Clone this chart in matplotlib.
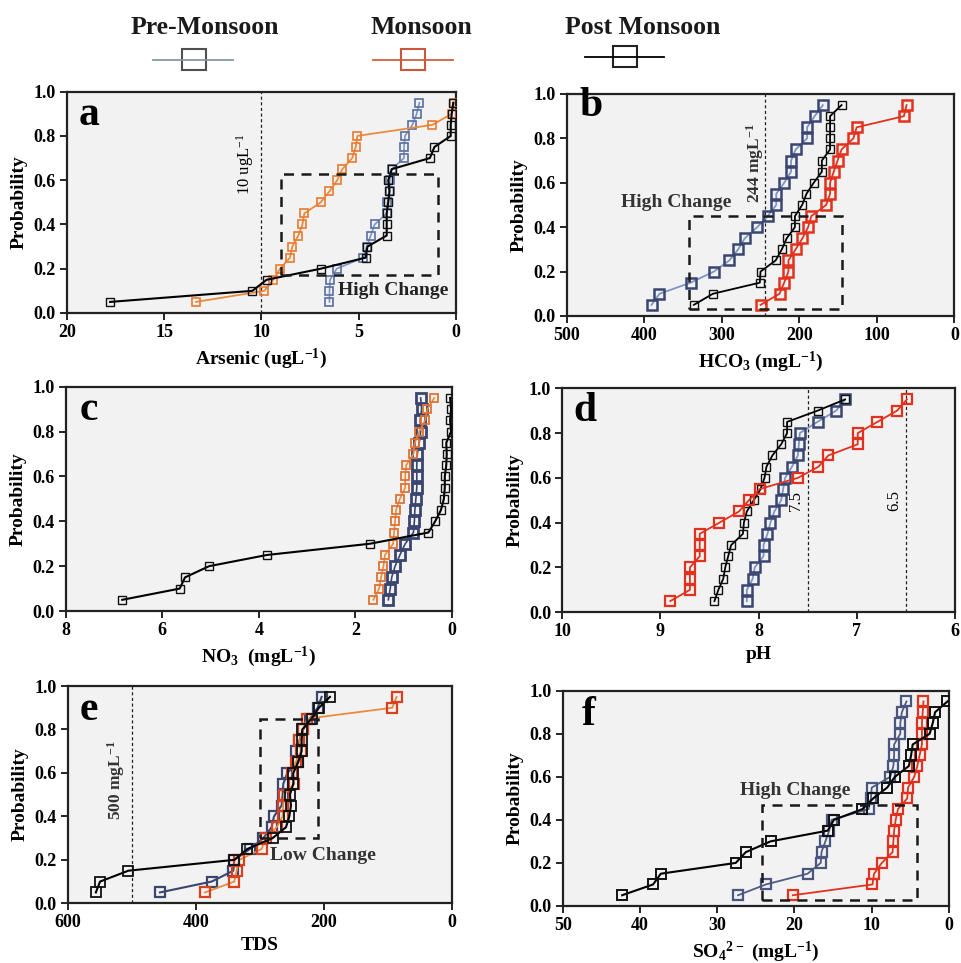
import matplotlib
matplotlib.use("Agg")
import matplotlib.pyplot as plt
from matplotlib.lines import Line2D
from matplotlib.patches import Rectangle

plt.rcParams['font.family'] = ['Liberation Serif', 'DejaVu Serif']
plt.rcParams['font.weight'] = 'bold'
plt.rcParams['mathtext.default'] = 'regular'

# cumulative probability levels shared by every series
prob = [0.05, 0.10, 0.15, 0.20, 0.25, 0.30, 0.35, 0.40, 0.45, 0.50,
        0.55, 0.60, 0.65, 0.70, 0.75, 0.80, 0.85, 0.90, 0.95]

# a: Arsenic (ug/L)
as_pre = [6.5, 6.5, 6.47, 6.13, 4.76, 4.59, 4.38, 4.18, 3.56, 3.52,
          3.40, 3.40, 3.30, 2.67, 2.67, 2.62, 2.24, 2.02, 1.88]
as_mon = [13.36, 9.85, 9.38, 9.04, 8.53, 8.41, 8.10, 7.89, 7.79, 6.95,
          6.50, 6.10, 5.84, 5.33, 5.15, 5.07, 1.22, 0.22, 0.10]
as_post = [17.77, 10.46, 9.73, 6.95, 4.64, 4.55, 3.56, 3.56, 3.56, 3.48,
           3.42, 3.48, 3.30, 1.34, 1.11, 0.27, 0.27, 0.22, 0.14]

# b: HCO3 (mg/L)
hco3_pre = [390.6, 380.4, 340.2, 310.2, 290.3, 278.9, 270.4, 254.3, 240.8, 229.8,
            229.8, 219.6, 210.7, 210.7, 204.8, 190.0, 190.0, 180.3, 169.7]
hco3_mon = [250.0, 225.6, 219.6, 214.1, 214.1, 204.8, 196.0, 188.7, 184.5, 165.5,
            160.4, 160.4, 155.7, 150.7, 145.6, 130.3, 126.1, 65.2, 61.8]
hco3_post = [336.0, 311.5, 251.0, 250.1, 230.6, 222.6, 216.3, 205.7, 205.7, 196.4,
             190.9, 181.5, 171.0, 171.0, 160.4, 160.4, 160.4, 160.4, 145.6]

# c: NO3 (mg/L)
no3_pre = [1.32, 1.28, 1.25, 1.18, 1.08, 0.97, 0.80, 0.78, 0.77, 0.75,
           0.73, 0.73, 0.73, 0.72, 0.68, 0.65, 0.66, 0.63, 0.65]
no3_mon = [1.63, 1.51, 1.47, 1.42, 1.39, 1.22, 1.20, 1.18, 1.16, 1.08,
           0.97, 0.97, 0.95, 0.80, 0.77, 0.68, 0.56, 0.51, 0.37]
no3_post = [6.83, 5.64, 5.53, 5.03, 3.83, 1.70, 0.49, 0.35, 0.23, 0.17,
            0.15, 0.15, 0.12, 0.11, 0.12, 0.02, 0.04, 0.02, 0.04]

# d: pH
ph_pre = [8.12, 8.12, 8.06, 8.04, 7.95, 7.95, 7.91, 7.88, 7.84, 7.77,
          7.75, 7.73, 7.66, 7.60, 7.59, 7.58, 7.40, 7.21, 7.12]
ph_mon = [8.90, 8.70, 8.70, 8.70, 8.60, 8.60, 8.60, 8.40, 8.20, 8.10,
          7.99, 7.60, 7.39, 7.29, 6.99, 6.99, 6.79, 6.59, 6.49]
ph_post = [8.45, 8.41, 8.36, 8.34, 8.31, 8.28, 8.16, 8.15, 8.12, 8.05,
           7.98, 7.94, 7.92, 7.86, 7.77, 7.71, 7.71, 7.40, 7.12]

# e: TDS (mg/L)
tds_pre = [456.0, 375.4, 341.6, 340.0, 315.6, 294.8, 281.8, 278.1, 266.2, 264.6,
           263.6, 257.3, 241.2, 243.8, 238.6, 232.4, 222.0, 210.0, 203.8]
tds_mon = [385.8, 340.0, 336.4, 332.2, 297.4, 291.1, 274.0, 264.6, 263.6, 262.5,
           246.4, 249.5, 244.3, 236.0, 238.6, 232.4, 226.1, 93.6, 86.8]
tds_post = [556.0, 549.5, 505.3, 340.0, 319.7, 280.2, 259.4, 254.2, 251.6, 253.2,
            248.0, 248.0, 240.2, 235.0, 235.0, 234.0, 219.4, 208.0, 190.8]

# f: SO4 (mg/L)
so4_pre = [27.3, 23.7, 18.3, 16.6, 16.5, 16.0, 15.5, 15.2, 10.4, 10.1,
           10.0, 7.6, 7.2, 7.1, 7.1, 6.3, 6.3, 6.1, 5.5]
so4_mon = [20.2, 9.9, 9.7, 8.7, 7.3, 7.2, 7.1, 6.9, 6.6, 5.4,
           5.3, 4.5, 4.1, 3.8, 3.5, 3.5, 3.5, 3.4, 3.3]
so4_post = [42.3, 38.3, 37.3, 27.6, 26.3, 23.1, 15.7, 14.9, 11.2, 9.8,
            8.0, 7.0, 5.2, 4.9, 4.7, 2.5, 2.1, 1.8, 0.2]

# guideline values
as_limit = 10
hco3_limit = 244
ph_limits = [7.5, 6.5]
tds_limit = 500

# highlighted regions: (x_high, x_low, p_low, p_high)
as_box = (9.0, 0.94, 0.17, 0.63)
hco3_box = (342, 145.6, 0.03, 0.45)
tds_box = (300, 209, 0.30, 0.85)
so4_box = (24.2, 4.2, 0.03, 0.47)

BLUE_D = '#3a4670'
BLUE_L = '#7d95c6'
RED = '#e2321e'
ORANGE = '#ec8a3c'

fig = plt.figure(figsize=(9.61, 9.63), dpi=100)


def panel(rect, xlim, xticks, xlabel, letter, letter_pos, series):
    ax = fig.add_axes(rect)
    ax.set_facecolor('#f2f2f2')
    for x, kw in series:
        ax.plot(x, prob, marker='s', markerfacecolor='none', **kw)
    ax.set_xlim(*xlim)
    ax.set_ylim(0, 1)
    ax.set_xticks(xticks)
    ax.set_yticks([0, 0.2, 0.4, 0.6, 0.8, 1.0])
    ax.yaxis.set_major_formatter(matplotlib.ticker.FormatStrFormatter('%.1f'))
    ax.tick_params(direction='out', length=5, width=1.2, labelsize=13, pad=3)
    for s in ax.spines.values():
        s.set_linewidth(1.6)
        s.set_color('#222222')
    ax.set_xlabel(xlabel, fontsize=14, fontweight='bold', labelpad=4)
    ax.set_ylabel('Probability', fontsize=14, fontweight='bold', labelpad=4)
    ax.text(letter_pos[0], letter_pos[1], letter, transform=ax.transAxes,
            fontsize=30, fontweight='bold', va='baseline', ha='left')
    return ax


def box(ax, b):
    ax.add_patch(Rectangle((b[0], b[2]), b[1] - b[0], b[3] - b[2], fill=False,
                           lw=1.8, ls=(0, (4, 3)), ec='#1a1a1a', zorder=6))


def vline(ax, x):
    ax.axvline(x, color='#222222', lw=0.9, ls=(0, (2.5, 2)), zorder=1)


# a
ax = panel([0.0694, 0.675, 0.4051, 0.2298], (20, 0), [20, 15, 10, 5, 0],
           'Arsenic (ugL$^{-1}$)', 'a', (0.03, 0.85),
           [(as_pre, dict(color=BLUE_L, mec='#5a6f9e', ms=5.5, mew=1.2, lw=1.2, zorder=3)),
            (as_mon, dict(color=ORANGE, mec='#e87a30', ms=5.5, mew=1.2, lw=1.3, zorder=4)),
            (as_post, dict(color='black', mec='#111111', ms=5.5, mew=1.0, lw=1.5, zorder=5))])
vline(ax, as_limit)
box(ax, as_box)
ax.text(as_limit + 0.85, 0.67, '10 ugL$^{-1}$', rotation=90, fontsize=12,
        fontweight='normal', ha='center', va='center')
ax.text(6.04, 0.10, 'High Change', fontsize=14, fontweight='bold',
        ha='left', va='center', color='#222222', zorder=7)

# b
ax = panel([0.5897, 0.6719, 0.4035, 0.2305], (500, 0), [500, 400, 300, 200, 100, 0],
           'HCO$_3$ (mgL$^{-1}$)', 'b', (0.034, 0.90),
           [(hco3_pre, dict(color=BLUE_L, mec=BLUE_D, ms=6.5, mew=1.8, lw=1.3, zorder=3)),
            (hco3_post, dict(color='black', mec='#111111', ms=5.5, mew=1.0, lw=1.3, zorder=4)),
            (hco3_mon, dict(color=RED, mec=RED, ms=6.5, mew=1.8, lw=1.3, zorder=5))])
vline(ax, hco3_limit)
box(ax, hco3_box)
ax.text(hco3_limit + 13, 0.69, '244 mgL$^{-1}$', rotation=90, fontsize=12.5,
        fontweight='bold', ha='center', va='center', color='#333333')
ax.text(430, 0.51, 'High Change', fontsize=14, fontweight='bold',
        ha='left', va='center', color='#333333', zorder=7)

# c
ax = panel([0.0684, 0.3655, 0.402, 0.2329], (8, 0), [8, 6, 4, 2, 0],
           'NO$_3$  (mgL$^{-1}$)', 'c', (0.037, 0.85),
           [(no3_pre, dict(color=BLUE_D, mec=BLUE_D, ms=6.5, mew=2.0, lw=1.2, zorder=3)),
            (no3_mon, dict(color=ORANGE, mec='#e07234', ms=5.5, mew=1.3, lw=1.2, zorder=4)),
            (no3_post, dict(color='black', mec='#111111', ms=5.5, mew=1.0, lw=1.5, zorder=5))])

# d
ax = panel([0.5851, 0.3642, 0.4086, 0.2326], (10, 6), [10, 9, 8, 7, 6],
           'pH', 'd', (0.027, 0.855),
           [(ph_pre, dict(color=BLUE_L, mec=BLUE_D, ms=6.5, mew=1.8, lw=1.3, zorder=3)),
            (ph_post, dict(color='black', mec='#111111', ms=5.5, mew=1.0, lw=1.3, zorder=4)),
            (ph_mon, dict(color=RED, mec=RED, ms=6.5, mew=1.6, lw=1.3, zorder=5))])
for lim in ph_limits:
    vline(ax, lim)
    ax.text(lim + 0.12, 0.50, str(lim), rotation=90, fontsize=12,
            fontweight='normal', ha='center', va='center')

# e
ax = panel([0.0704, 0.062, 0.4002, 0.2256], (600, 0), [600, 400, 200, 0],
           'TDS', 'e', (0.03, 0.843),
           [(tds_pre, dict(color=BLUE_D, mec=BLUE_D, ms=6.5, mew=1.6, lw=1.5, zorder=3)),
            (tds_mon, dict(color=ORANGE, mec='#d8401e', ms=6.5, mew=1.6, lw=1.3, zorder=4)),
            (tds_post, dict(color='black', mec='#111111', ms=6.5, mew=1.3, lw=1.5, zorder=5))])
vline(ax, tds_limit)
box(ax, tds_box)
ax.text(tds_limit + 24, 0.567, '500 mgL$^{-1}$', rotation=90, fontsize=12.5,
        fontweight='bold', ha='center', va='center', color='#333333')
ax.text(284, 0.22, 'Low Change', fontsize=14, fontweight='bold',
        ha='left', va='center', color='#333333', zorder=7)

# f
ax = panel([0.5855, 0.0592, 0.402, 0.2236], (50, 0), [50, 40, 30, 20, 10, 0],
           'SO$_4$$^{2-}$ (mgL$^{-1}$)', 'f', (0.05, 0.84),
           [(so4_pre, dict(color='#505c80', mec='#4a5680', ms=6.5, mew=1.6, lw=1.3, zorder=3)),
            (so4_mon, dict(color=RED, mec=RED, ms=6.5, mew=1.6, lw=1.3, zorder=4)),
            (so4_post, dict(color='black', mec='#111111', ms=6.5, mew=1.4, lw=1.5, zorder=5))])
box(ax, so4_box)
ax.text(27.1, 0.535, 'High Change', fontsize=14, fontweight='bold',
        ha='left', va='center', color='#333333', zorder=7)

# season key across the top
W, H = 961, 963
key = [('Pre-Monsoon', 205, 153, 233, 194, 60, '#8a96aa', '#505050'),
       ('Monsoon', 421, 373, 453, 413, 60, '#d0603a', '#c8583a'),
       ('Post Monsoon', 643, 585, 664, 625, 57, 'black', '#222222')]
for name, tx, x0, x1, sx, sy, lc, sc in key:
    fig.text(tx / W, 1 - 28 / H, name, fontsize=18.5, fontweight='bold',
             ha='center', va='center', color='#1a1a1a')
    fig.add_artist(Line2D([x0 / W, x1 / W], [1 - sy / H, 1 - sy / H],
                          transform=fig.transFigure, color=lc, lw=1.3))
    fig.add_artist(Rectangle(((sx - 12) / W, 1 - (sy + 10.5) / H), 24 / W, 21 / H,
                             transform=fig.transFigure, fill=True, fc='white',
                             ec=sc, lw=1.5, zorder=3))
    # the line runs through the open key box
    fig.add_artist(Line2D([(sx - 12) / W, (sx + 12) / W], [1 - sy / H, 1 - sy / H],
                          transform=fig.transFigure, color=lc, lw=1.3, zorder=4))

fig.savefig('out.png', dpi=100)
